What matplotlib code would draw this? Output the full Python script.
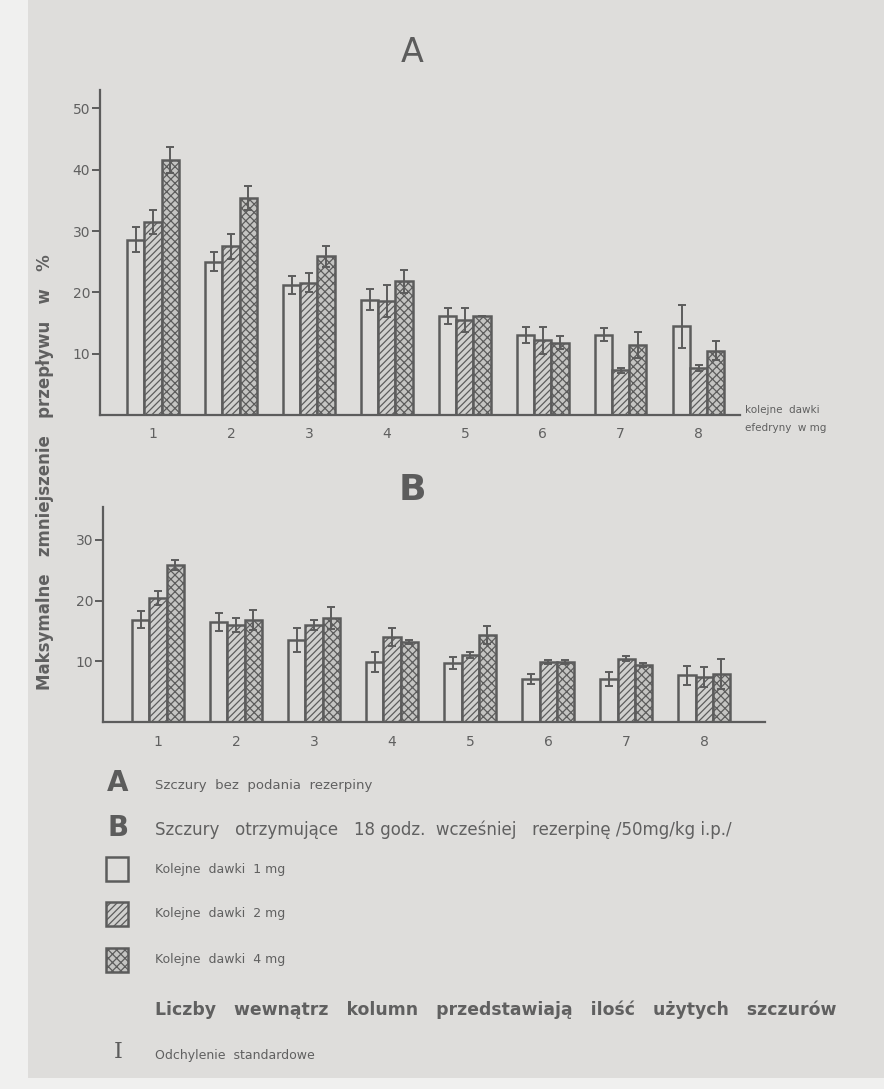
import matplotlib.pyplot as plt
from matplotlib.patches import Rectangle
import numpy as np

plt.rcParams['font.family'] = ['DejaVu Sans']
plt.rcParams['hatch.linewidth'] = 0.9

W, H = 884, 1089
PAPER = '#dedddb'
INK = '#5c5c5c'
TEXT = '#606060'

doses = ['1', '2', '3', '4', '5', '6', '7', '8']

# A: rats without reserpine (mean, SD) for 1, 2 and 4 mg doses
a_1mg = [28.6, 25.0, 21.2, 18.8, 16.1, 13.0, 13.1, 14.5]
a_1mg_sd = [2.0, 1.5, 1.4, 1.7, 1.3, 1.3, 1.1, 3.5]
a_2mg = [31.5, 27.5, 21.6, 18.6, 15.5, 12.2, 7.3, 7.7]
a_2mg_sd = [2.0, 2.0, 1.5, 2.6, 2.0, 2.2, 0.4, 0.5]
a_4mg = [41.6, 35.4, 25.9, 21.8, 16.2, 11.8, 11.4, 10.5]
a_4mg_sd = [2.1, 1.9, 1.7, 1.9, 0.0, 1.1, 2.1, 1.6]

# B: rats given reserpine beforehand
b_1mg = [16.8, 16.5, 13.5, 9.9, 9.7, 7.1, 7.1, 7.7]
b_1mg_sd = [1.4, 1.5, 2.0, 1.7, 1.0, 0.8, 1.1, 1.6]
b_2mg = [20.4, 16.0, 16.0, 14.0, 11.0, 9.9, 10.4, 7.4]
b_2mg_sd = [1.1, 1.2, 0.8, 1.5, 0.5, 0.3, 0.4, 1.6]
b_4mg = [25.9, 16.8, 17.1, 13.2, 14.3, 9.9, 9.4, 7.9]
b_4mg_sd = [0.8, 1.6, 1.8, 0.3, 1.5, 0.3, 0.3, 2.5]

styles = [
    dict(facecolor=PAPER, hatch=None),
    dict(facecolor='#d0d0ce', hatch='/////'),
    dict(facecolor='#c4c4c2', hatch='xxxx'),
]


def fx(px):
    return px / W


def fy(py):
    return 1 - py / H


def draw_panel(ax, series, errors, yticks, xlim, ylim):
    x = np.arange(1, len(doses) + 1)
    width = 0.22
    for i, (vals, sd) in enumerate(zip(series, errors)):
        xs = x + (i - 1) * width
        ax.bar(xs, vals, width, edgecolor=INK, linewidth=1.8, zorder=2, **styles[i])
        ax.errorbar(xs, vals, yerr=sd, fmt='none', ecolor=INK, elinewidth=1.4,
                    capsize=3, capthick=1.4, zorder=3)
    ax.set_xlim(*xlim)
    ax.set_ylim(*ylim)
    ax.set_facecolor('none')
    for side in ['top', 'right']:
        ax.spines[side].set_visible(False)
    for side in ['left', 'bottom']:
        ax.spines[side].set_color(INK)
        ax.spines[side].set_linewidth(1.6)
    ax.set_yticks(yticks)
    ax.set_yticklabels([str(t) for t in yticks], fontsize=10, color=TEXT)
    ax.tick_params(axis='y', direction='out', length=6, width=1.4, color=INK, pad=1)
    ax.set_xticks(x)
    ax.set_xticklabels(doses, fontsize=10, color=TEXT)
    ax.tick_params(axis='x', length=0, pad=9)


fig = plt.figure(figsize=(W / 100, H / 100), dpi=100)
fig.patch.set_facecolor('#f0f0ef')
# scanned sheet of paper
fig.patches.append(Rectangle((fx(28), fy(1078)), 1 - fx(28), fy(0) - fy(1078),
                             transform=fig.transFigure, facecolor=PAPER,
                             edgecolor='none', zorder=-10))

ax_a = fig.add_axes([fx(100), fy(415), fx(740) - fx(100), fy(90) - fy(415)])
draw_panel(ax_a, [a_1mg, a_2mg, a_4mg], [a_1mg_sd, a_2mg_sd, a_4mg_sd],
           [10, 20, 30, 40, 50], (0.32, 8.53), (0, 53))

ax_b = fig.add_axes([fx(103), fy(722), fx(765) - fx(103), fy(507) - fy(722)])
draw_panel(ax_b, [b_1mg, b_2mg, b_4mg], [b_1mg_sd, b_2mg_sd, b_4mg_sd],
           [10, 20, 30], (0.295, 8.78), (0, 35.4))

fig.text(fx(412), fy(52), 'A', fontsize=24, color=INK, ha='center', va='center')
fig.text(fx(412), fy(490), 'B', fontsize=26, fontweight='bold', color=INK,
         ha='center', va='center')

fig.text(fx(45), fy(472), 'Maksymalne   zmniejszenie   przepływu   w   %', rotation=90,
         fontsize=12, fontweight='bold', color=TEXT, ha='center', va='center')
fig.text(fx(745), fy(410), 'kolejne  dawki', fontsize=7.5, color=TEXT, va='center')
fig.text(fx(745), fy(428), 'efedryny  w mg', fontsize=7.5, color=TEXT, va='center')

# key
fig.text(fx(118), fy(783), 'A', fontsize=20, fontweight='bold', color=INK,
         ha='center', va='center')
fig.text(fx(118), fy(828), 'B', fontsize=20, fontweight='bold', color=INK,
         ha='center', va='center')
fig.text(fx(155), fy(785), 'Szczury  bez  podania  rezerpiny', fontsize=9.5,
         color=TEXT, va='center')
fig.text(fx(155), fy(830),
         'Szczury   otrzymujące   18 godz.  wcześniej   rezerpinę /50mg/kg i.p./',
         fontsize=12, color=TEXT, va='center')

labels = ['Kolejne  dawki  1 mg', 'Kolejne  dawki  2 mg', 'Kolejne  dawki  4 mg']
for i, (lab, ypx) in enumerate(zip(labels, [869, 914, 960])):
    fig.patches.append(Rectangle((fx(106), fy(ypx + 12)), fx(22), fy(0) - fy(24),
                                 transform=fig.transFigure, edgecolor=INK,
                                 linewidth=1.8, **styles[i]))
    fig.text(fx(155), fy(ypx), lab, fontsize=9, color=TEXT, va='center')

fig.text(fx(155), fy(1010),
         'Liczby   wewnątrz   kolumn   przedstawiają   ilość   użytych   szczurów',
         fontsize=12.4, fontweight='bold', color=TEXT, va='center')
fig.text(fx(118), fy(1052), 'I', fontsize=16, family='DejaVu Serif', color=INK,
         ha='center', va='center')
fig.text(fx(155), fy(1055), 'Odchylenie  standardowe', fontsize=9, color=TEXT,
         va='center')

fig.savefig('out.png', dpi=100, facecolor=fig.get_facecolor())
